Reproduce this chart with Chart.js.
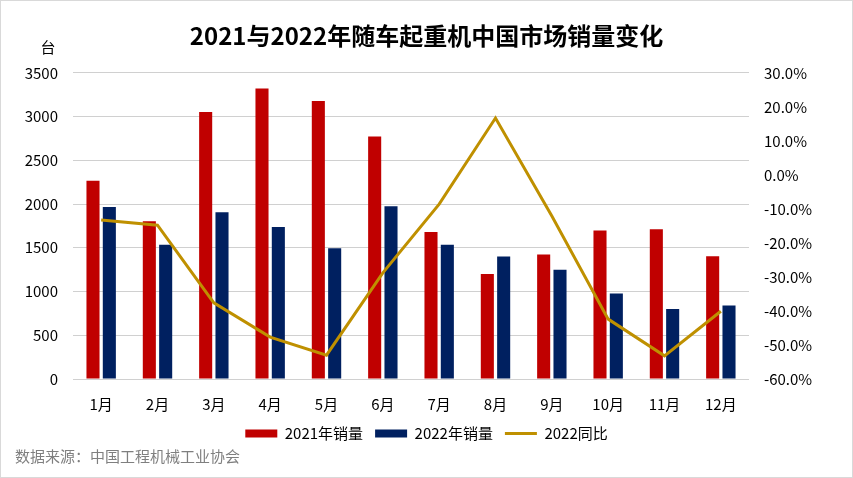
<!DOCTYPE html>
<html>
<head>
<meta charset="utf-8">
<script src="https://cdn.jsdelivr.net/npm/chart.js@4"></script>
<style>
    html, body { margin: 0; padding: 0; background: #fff; }
    #wrap { position: relative; width: 853px; height: 478px; box-sizing: border-box; border: 1px solid #d9d9d9; }
    canvas { display: block; }
</style>
</head>
<body>
<div id="wrap"><canvas id="salesChart" width="851" height="476"></canvas></div>
<script>
// Chart data
const months = ['1月', '2月', '3月', '4月', '5月', '6月', '7月', '8月', '9月', '10月', '11月', '12月'];
const sales2021 = [2265, 1802, 3052, 3320, 3178, 2771, 1679, 1200, 1422, 1698, 1713, 1403];
const sales2022 = [1966, 1534, 1905, 1736, 1495, 1974, 1534, 1399, 1250, 977, 801, 839];
const yoy2022 = [-13.3, -14.8, -37.6, -47.7, -53.0, -28.8, -8.6, 16.7, -12.1, -42.4, -53.2, -40.1];

const FONT = "'Noto Sans CJK SC', 'Noto Sans', sans-serif";

// Extra texts: unit label and data source
const extraText = {
    id: 'extraText',
    afterDraw(chart) {
        const ctx = chart.ctx;
        ctx.save();
        ctx.fillStyle = '#000';
        ctx.font = '15px ' + FONT;
        ctx.textAlign = 'center';
        ctx.textBaseline = 'middle';
        ctx.fillText('台', 47, 46);
        ctx.fillStyle = '#7f7f7f';
        ctx.textAlign = 'left';
        ctx.fillText('数据来源：中国工程机械工业协会', 14, 455);
        ctx.restore();
    }
};

const ctx = document.getElementById('salesChart').getContext('2d');
const salesChart = new Chart(ctx, {
    type: 'bar',
    data: {
        labels: months,
        datasets: [
            {
                label: '2021年销量',
                data: sales2021,
                backgroundColor: '#C00000',
                pointStyle: 'rect',
                yAxisID: 'y',
                order: 1
            },
            {
                label: '2022年销量',
                data: sales2022,
                backgroundColor: '#002060',
                pointStyle: 'rect',
                yAxisID: 'y',
                order: 2
            },
            {
                type: 'line',
                label: '2022同比',
                data: yoy2022,
                borderColor: '#BF9000',
                backgroundColor: '#BF9000',
                borderWidth: 3,
                pointRadius: 0,
                pointStyle: 'line',
                tension: 0,
                yAxisID: 'y1',
                order: 0
            }
        ]
    },
    options: {
        responsive: false,
        animation: false,
        layout: {
            padding: { left: 0, right: 0, top: 0, bottom: 26 }
        },
        datasets: {
            bar: {
                categoryPercentage: 0.58,
                barPercentage: 0.8
            }
        },
        plugins: {
            title: {
                display: true,
                text: '2021与2022年随车起重机中国市场销量变化',
                color: '#000',
                font: { family: FONT, size: 24, weight: 'bold' },
                padding: { top: 20, bottom: 23 }
            },
            legend: {
                position: 'bottom',
                labels: {
                    usePointStyle: true,
                    pointStyleWidth: 32,
                    boxHeight: 8,
                    color: '#000',
                    padding: 12,
                    font: { family: FONT, size: 15 },
                    sort: (a, b) => a.datasetIndex - b.datasetIndex
                }
            },
            tooltip: { enabled: false }
        },
        scales: {
            x: {
                afterFit: scale => { scale.height = 35; },
                grid: { display: false },
                border: { display: false },
                ticks: {
                    color: '#000',
                    padding: 8,
                    font: { family: FONT, size: 15 }
                }
            },
            y: {
                position: 'left',
                min: 0,
                max: 3500,
                afterFit: scale => { scale.width = 72; },
                grid: { color: '#D0D0D0', lineWidth: 1, drawTicks: false },
                border: { display: false },
                ticks: {
                    stepSize: 500,
                    color: '#000',
                    padding: 15,
                    font: { family: FONT, size: 15 },
                    callback: value => String(value)
                }
            },
            y1: {
                position: 'right',
                min: -60,
                max: 30,
                afterFit: scale => { scale.width = 103; },
                grid: { display: false, drawTicks: false },
                border: { display: false },
                ticks: {
                    stepSize: 10,
                    color: '#000',
                    padding: 15,
                    font: { family: FONT, size: 15 },
                    callback: value => value.toFixed(1) + '%'
                }
            }
        }
    },
    plugins: [extraText]
});
</script>
</body>
</html>
